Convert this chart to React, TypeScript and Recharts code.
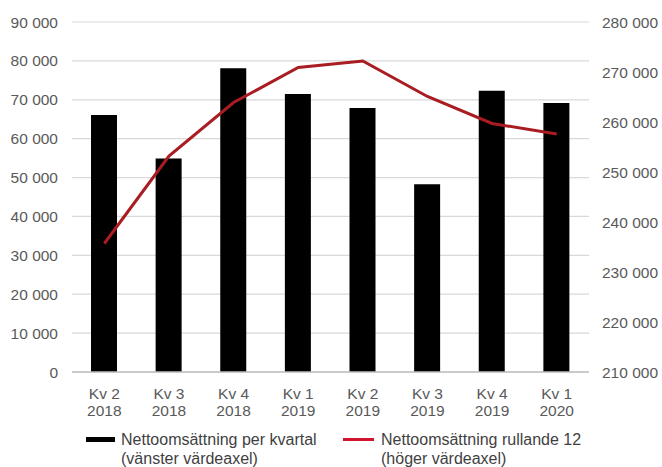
import React from "react";
import {
  ComposedChart,
  Bar,
  Line,
  XAxis,
  YAxis,
  CartesianGrid,
  Legend,
} from "recharts";

const quarters = ["Kv 2", "Kv 3", "Kv 4", "Kv 1", "Kv 2", "Kv 3", "Kv 4", "Kv 1"];
const years = ["2018", "2018", "2018", "2019", "2019", "2019", "2019", "2020"];
const quarterlySales = [66100, 54900, 78100, 71500, 67900, 48300, 72300, 69200];
const rollingSales = [235700, 253200, 263900, 270900, 272200, 265100, 259700, 257600];

const leftTicks = [0, 10000, 20000, 30000, 40000, 50000, 60000, 70000, 80000, 90000];
const rightTicks = [210000, 220000, 230000, 240000, 250000, 260000, 270000, 280000];

const data = quarters.map((q, i) => ({
  name: `${q} ${years[i]}`,
  quarter: q,
  year: years[i],
  kvartal: quarterlySales[i],
  rullande: rollingSales[i],
}));

const FONT = "'Liberation Sans', Arial, sans-serif";
const fmt = (v: number) => String(v).replace(/\B(?=(\d{3})+(?!\d))/g, " ");

/* eslint-disable @typescript-eslint/no-explicit-any */
function CategoryTick({ x, y, index }: any) {
  return (
    <g transform={`translate(${x},${y})`}>
      <text textAnchor="middle" fill="#595959" fontSize={15.5} fontFamily={FONT}>
        <tspan x={0} dy={19}>{quarters[index]}</tspan>
        <tspan x={0} dy={17}>{years[index]}</tspan>
      </text>
    </g>
  );
}

function ChartLegend() {
  const text = { fontSize: 16, color: "#3f3f3f", lineHeight: "19px", fontFamily: FONT };
  return (
    <div style={{ position: "relative", height: 45, width: 662 }}>
      <div style={{ position: "absolute", left: 86, top: 15, width: 29, height: 5, background: "#000" }} />
      <div style={{ position: "absolute", left: 121, top: 8, ...text }}>
        Nettoomsättning per kvartal
        <br />
        (vänster värdeaxel)
      </div>
      <div style={{ position: "absolute", left: 343, top: 16, width: 31, height: 3, background: "#D2152E" }} />
      <div style={{ position: "absolute", left: 381, top: 8, ...text }}>
        Nettoomsättning rullande 12
        <br />
        (höger värdeaxel)
      </div>
    </div>
  );
}

export default function App() {
  return (
    <div style={{ position: "absolute", left: 0, top: 0, background: "#fff" }}>
      <ComposedChart
        width={662}
        height={467}
        data={data}
        margin={{ top: 22, right: 0, left: 0, bottom: 0 }}
      >
        <CartesianGrid yAxisId="left" vertical={false} stroke="#d9d9d9" strokeWidth={1.2} />
        <XAxis
          dataKey="name"
          height={50}
          interval={0}
          tick={<CategoryTick />}
          tickLine={false}
          axisLine={{ stroke: "#bfbfbf", strokeWidth: 1.5 }}
        />
        <YAxis
          yAxisId="left"
          width={72}
          domain={[0, 90000]}
          ticks={leftTicks}
          tickFormatter={fmt}
          axisLine={false}
          tickLine={false}
          tickSize={0}
          tickMargin={14}
          tick={{ fill: "#595959", fontSize: 15.5, fontFamily: FONT }}
        />
        <YAxis
          yAxisId="right"
          orientation="right"
          width={73}
          domain={[210000, 280000]}
          ticks={rightTicks}
          tickFormatter={fmt}
          axisLine={false}
          tickLine={false}
          tickSize={0}
          tickMargin={13}
          tick={{ fill: "#595959", fontSize: 15.5, fontFamily: FONT }}
        />
        <Legend
          verticalAlign="bottom"
          height={45}
          content={<ChartLegend />}
          wrapperStyle={{ left: 0, width: 662 }}
        />
        <Bar
          yAxisId="left"
          dataKey="kvartal"
          fill="#000"
          barSize={26}
          isAnimationActive={false}
        />
        <Line
          yAxisId="right"
          dataKey="rullande"
          type="linear"
          stroke="#A81C22"
          strokeWidth={3}
          dot={false}
          activeDot={false}
          isAnimationActive={false}
        />
      </ComposedChart>
    </div>
  );
}
